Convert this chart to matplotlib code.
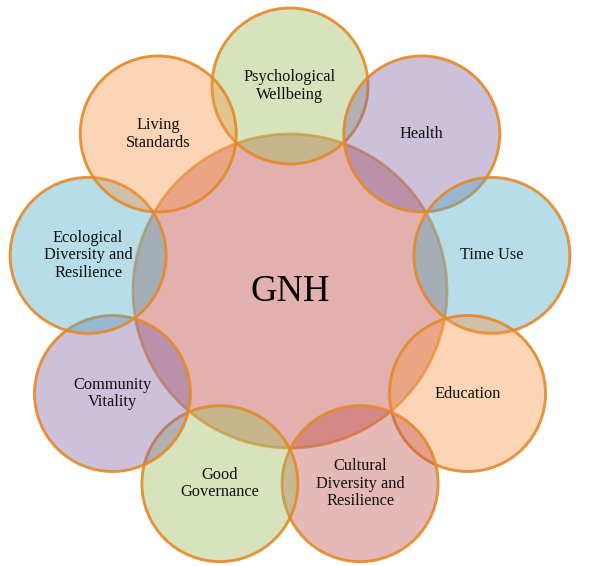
import numpy as np
import matplotlib.pyplot as plt
from matplotlib.patches import Circle

# outer circles, clockwise from the top
labels = ["Psychological\nWellbeing", "Health", "Time Use", "Education",
          "Cultural\nDiversity and\nResilience", "Good\nGovernance",
          "Community\nVitality", "Ecological\nDiversity and\nResilience",
          "Living\nStandards"]
colors = ["#9BBB59", "#8064A2", "#4BACC6", "#F79646", "#C0504D",
          "#9BBB59", "#8064A2", "#4BACC6", "#F79646"]
center_label = "GNH"
center_color = "#C0504D"

W, H = 596, 566
cx, cy = 290, 291
R_center = 157
R_outer = 78
ring = 205
edge = "#E5892A"

fig = plt.figure(figsize=(W / 100, H / 100), dpi=100)
ax = fig.add_axes([0, 0, 1, 1])
ax.set_xlim(0, W)
ax.set_ylim(H, 0)
ax.set_aspect("equal")
ax.axis("off")

ax.add_patch(Circle((cx, cy), R_center, facecolor=center_color, alpha=0.45,
                    edgecolor="none", zorder=1))
ax.add_patch(Circle((cx, cy), R_center, facecolor="none", edgecolor=edge,
                    lw=2, alpha=0.75, zorder=1))
ax.text(cx, cy + 1, center_label, ha="center", va="center", fontsize=26.5,
        family="Liberation Serif", color="black", zorder=5)

angles = np.deg2rad(90 - 40 * np.arange(len(labels)))
for i, (lab, col, a) in enumerate(zip(labels, colors, angles)):
    x = cx + ring * np.cos(a)
    y = cy - ring * np.sin(a)
    ax.add_patch(Circle((x, y), R_outer, facecolor=col, alpha=0.4,
                        edgecolor="none", zorder=2 + i * 0.01))
    ax.add_patch(Circle((x, y), R_outer, facecolor="none", edgecolor=edge,
                        lw=2.1, alpha=0.9, zorder=2 + i * 0.01))
    ax.text(x, y, lab, ha="center", va="center", fontsize=11.8,
            family="Liberation Serif", color="#111111", linespacing=1.12,
            zorder=5)

fig.savefig("out.png", dpi=100)
